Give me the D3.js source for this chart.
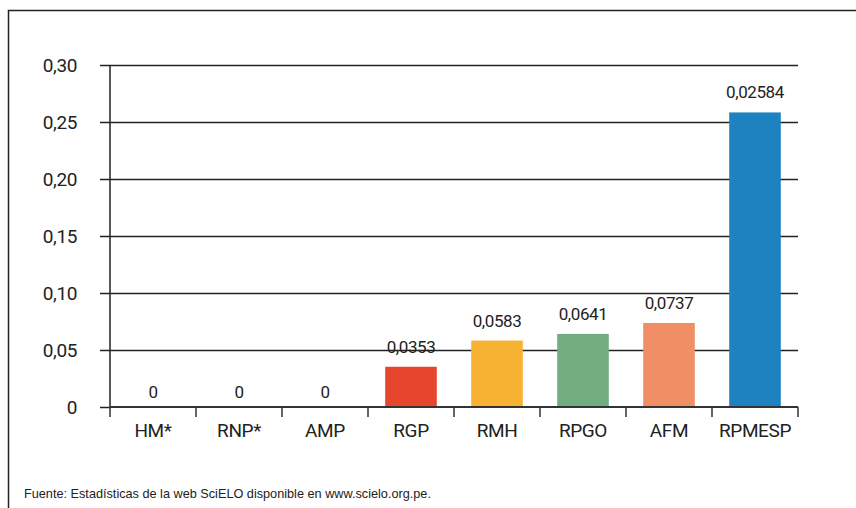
<!DOCTYPE html>
<html>
<head>
<meta charset="utf-8">
<script src="https://cdn.jsdelivr.net/npm/d3@7"></script>
<style>
    body { margin: 0; background: #fff; }
    svg text { fill: #222; }
    .chart--label { font-family: Roboto, "Liberation Sans Narrow", sans-serif; letter-spacing: -0.4px; }
    .chart--note { font-family: "Liberation Sans", Arial, sans-serif; }
</style>
</head>
<body>
<div id="chart"></div>
<script>
var categories = ['HM*', 'RNP*', 'AMP', 'RGP', 'RMH', 'RPGO', 'AFM', 'RPMESP'];
var values = [0, 0, 0, 0.0353, 0.0583, 0.0641, 0.0737, 0.2584];
var valueLabels = ['0', '0', '0', '0,0353', '0,0583', '0,0641', '0,0737', '0,02584'];
var barColors = ['#e8452f', '#e8452f', '#e8452f', '#e8452f', '#f7b233', '#72ad7f', '#f08f65', '#1f82c0'];
var yTicks = [0, 0.05, 0.10, 0.15, 0.20, 0.25, 0.30];
var yTickLabels = ['0', '0,05', '0,10', '0,15', '0,20', '0,25', '0,30'];
var source = 'Fuente: Estadísticas de la web SciELO disponible en www.scielo.org.pe.';

var width = 856, height = 508;
var margin = { top: 65, left: 110, right: 58, bottom: 101 };

var svg = d3.select('#chart')
    .append('svg')
    .attr('width', width)
    .attr('height', height);

/* outer frame, open on the right and bottom */
svg.append('path')
    .attr('d', 'M8.5,' + height + 'V10.5H' + width)
    .attr('fill', 'none')
    .attr('stroke', '#222')
    .attr('stroke-width', 1.5);

var x = d3.scaleBand()
    .domain(categories)
    .range([margin.left, width - margin.right])
    .paddingInner(0.4)
    .paddingOuter(0.2);

var xTicks = d3.scaleBand()
    .domain(categories)
    .range([margin.left, width - margin.right]);

var y = d3.scaleLinear()
    .domain([0, 0.30])
    .range([height - margin.bottom, margin.top]);

/* gridlines + left ticks */
svg.append('g')
    .attr('transform', 'translate(' + margin.left + ',0)')
    .call(d3.axisLeft(y)
        .tickValues(yTicks)
        .tickSize(10)
        .tickFormat(function (d, i) { return yTickLabels[i]; }))
    .call(function (g) {
        g.select('.domain').remove();
        g.selectAll('.tick line').attr('stroke', '#222').attr('stroke-width', 1.5);
        g.selectAll('.tick text')
            .attr('class', 'chart--label')
            .attr('x', -33)
            .style('font-size', '19px');
        g.selectAll('.tick')
            .filter(function (d) { return d > 0; })
            .append('line')
            .attr('x2', width - margin.right - margin.left)
            .attr('stroke', '#222')
            .attr('stroke-width', 1.3);
    });

/* y axis line */
svg.append('line')
    .attr('x1', margin.left).attr('x2', margin.left)
    .attr('y1', y(0.30)).attr('y2', y(0))
    .attr('stroke', '#222')
    .attr('stroke-width', 1.5);

/* bars */
svg.append('g')
    .selectAll('rect')
    .data(values)
    .join('rect')
    .attr('x', function (d, i) { return x(categories[i]); })
    .attr('y', function (d) { return y(d); })
    .attr('width', x.bandwidth())
    .attr('height', function (d) { return y(0) - y(d); })
    .attr('fill', function (d, i) { return barColors[i]; });

/* value labels */
svg.append('g')
    .selectAll('text')
    .data(values)
    .join('text')
    .attr('class', 'chart--label')
    .attr('x', function (d, i) { return x(categories[i]) + x.bandwidth() / 2; })
    .attr('y', function (d) { return y(d) - (d > 0 ? 14 : 9); })
    .attr('text-anchor', 'middle')
    .style('font-size', '17px')
    .text(function (d, i) { return valueLabels[i]; });

/* x axis */
var xAxis = svg.append('g')
    .attr('transform', 'translate(0,' + y(0) + ')');

xAxis.append('line')
    .attr('x1', margin.left).attr('x2', width - margin.right)
    .attr('stroke', '#333')
    .attr('stroke-width', 2);

xAxis.selectAll('.x-tick')
    .data(categories.concat(['end']))
    .join('line')
    .attr('class', 'x-tick')
    .attr('x1', function (d, i) { return margin.left + i * xTicks.bandwidth(); })
    .attr('x2', function (d, i) { return margin.left + i * xTicks.bandwidth(); })
    .attr('y1', 0).attr('y2', 10)
    .attr('stroke', '#333')
    .attr('stroke-width', 1.5);

xAxis.selectAll('.x-label')
    .data(categories)
    .join('text')
    .attr('class', 'chart--label x-label')
    .attr('x', function (d) { return xTicks(d) + xTicks.bandwidth() / 2; })
    .attr('y', 30)
    .attr('text-anchor', 'middle')
    .style('font-size', '19px')
    .text(function (d) { return d; });

/* source note */
svg.append('text')
    .attr('class', 'chart--note')
    .attr('x', 24)
    .attr('y', 498)
    .style('font-size', '12.7px')
    .text(source);
</script>
</body>
</html>
